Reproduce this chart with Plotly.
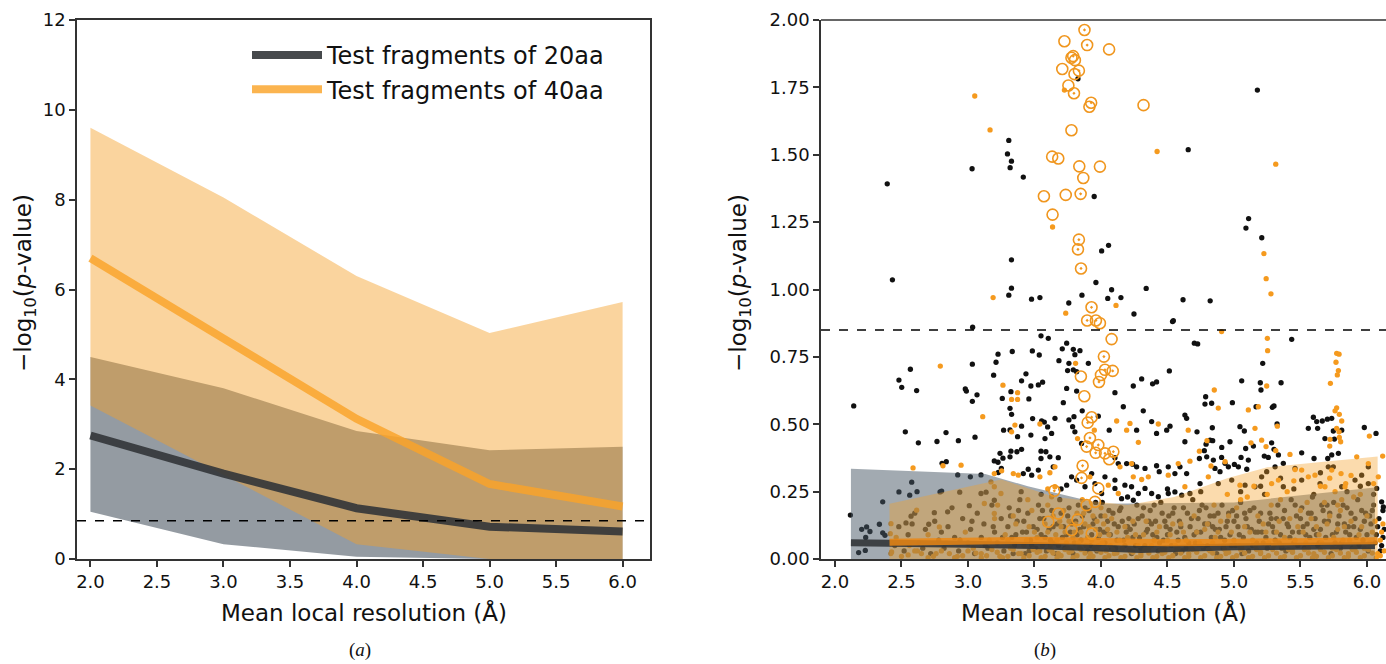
import plotly.graph_objects as go

# ---------------- Panel (a) data ----------------
res_bins = [2.0, 3.0, 4.0, 5.0, 6.0]
mean_20aa = [2.75, 1.9, 1.13, 0.72, 0.61]
lo_20aa = [1.05, 0.33, 0.05, 0.0, 0.0]
hi_20aa = [4.5, 3.8, 2.85, 2.42, 2.5]
mean_40aa = [6.7, 4.9, 3.12, 1.67, 1.17]
lo_40aa = [3.42, 1.88, 0.33, 0.0, 0.0]
hi_40aa = [9.6, 8.05, 6.3, 5.03, 5.72]
threshold = 0.85

# ---------------- Panel (b) data ----------------
b_grey_x = [2.12, 3.13, 3.45, 4.0, 5.0, 6.06]
b_grey_hi = [0.335, 0.315, 0.27, 0.205, 0.21, 0.265]
b_orange_x = [2.41, 3.25, 3.65, 4.2, 4.55, 4.95, 5.25, 6.08]
b_orange_hi = [0.205, 0.295, 0.23, 0.2, 0.23, 0.3, 0.34, 0.38]
b_grey_line_x = [2.12, 2.5, 3.0, 3.5, 4.0, 4.3, 5.0, 5.5, 6.06]
b_grey_line_y = [0.06, 0.06, 0.055, 0.05, 0.04, 0.035, 0.045, 0.05, 0.05]
b_orange_line_x = [2.41, 3.0, 3.5, 4.0, 4.5, 5.0, 5.5, 6.08]
b_orange_line_y = [0.062, 0.068, 0.07, 0.065, 0.06, 0.062, 0.066, 0.068]

# circled significant hits (x, y, has_dot)
circles = [
    (3.876, 1.963, 1), (3.725, 1.921, 0), (3.896, 1.907, 1), (4.061, 1.891, 0),
    (3.791, 1.866, 1), (3.778, 1.860, 0), (3.804, 1.851, 0), (3.709, 1.818, 0),
    (3.834, 1.812, 1), (3.801, 1.799, 0), (3.755, 1.757, 0), (3.797, 1.728, 1),
    (3.926, 1.693, 1), (3.913, 1.678, 0), (4.320, 1.684, 0), (3.778, 1.591, 0),
    (3.633, 1.493, 0), (3.679, 1.486, 0), (3.837, 1.457, 0), (3.992, 1.456, 0),
    (3.867, 1.414, 0), (3.571, 1.346, 0), (3.735, 1.351, 0), (3.847, 1.355, 1),
    (3.636, 1.278, 0), (3.834, 1.185, 1), (3.827, 1.149, 1), (3.850, 1.078, 1),
    (3.929, 0.934, 1), (3.896, 0.885, 1), (3.962, 0.885, 1), (3.992, 0.875, 0),
    (4.080, 0.816, 0), (4.022, 0.751, 1), (4.030, 0.702, 1), (4.088, 0.698, 1),
    (4.000, 0.683, 0), (3.985, 0.657, 1), (3.849, 0.677, 0), (3.875, 0.604, 0),
    (3.930, 0.526, 1), (3.900, 0.506, 1), (3.917, 0.449, 1), (3.892, 0.417, 1),
    (3.980, 0.423, 1), (3.960, 0.394, 1), (4.030, 0.392, 1), (4.093, 0.398, 1),
    (4.062, 0.370, 0), (3.862, 0.346, 1), (3.854, 0.301, 1), (3.649, 0.253, 1),
    (3.980, 0.262, 0), (3.604, 0.138, 0), (3.824, 0.146, 0), (3.955, 0.212, 0),
    (3.892, 0.200, 0), (3.779, 0.107, 0), (3.679, 0.169, 0), (3.930, 0.094, 0),
]

black_pts = [
    (2.393, 1.392), (2.432, 1.036), (3.031, 1.448), (3.307, 1.553), (3.297, 1.503),
    (3.327, 1.476), (3.317, 1.452), (3.416, 1.417), (3.949, 1.345), (3.827, 1.782),
    (4.656, 1.519), (5.176, 1.740), (5.110, 1.263), (5.090, 1.228), (5.209, 1.192),
    (4.057, 1.164), (4.005, 1.143), (3.327, 1.110), (3.962, 1.026), (3.327, 1.005),
    (3.307, 0.979), (4.080, 0.999), (4.340, 1.004), (3.478, 0.964), (3.541, 0.970),
    (3.758, 0.950), (3.857, 0.979), (4.051, 0.967), (4.150, 0.970), (4.617, 0.962),
    (4.821, 0.958), (4.248, 0.909), (4.538, 0.881),
    (3.035, 0.860), (2.141, 0.568), (2.567, 0.704), (2.481, 0.664), (2.502, 0.637),
    (2.614, 0.625), (3.033, 0.723), (3.226, 0.760), (3.211, 0.730), (3.193, 0.682),
    (2.980, 0.631), (2.988, 0.623), (3.068, 0.609), (3.033, 0.585), (3.258, 0.596),
    (2.529, 0.472), (2.627, 0.431), (2.767, 0.436), (2.835, 0.469), (2.928, 0.439),
    (3.053, 0.452), (3.268, 0.478), (2.805, 0.355), (2.837, 0.361), (2.923, 0.312),
    (3.018, 0.305), (3.098, 0.312), (3.198, 0.364), (3.241, 0.392), (3.263, 0.374),
    (3.226, 0.359), (3.251, 0.336), (3.228, 0.321), (2.577, 0.285), (2.481, 0.249),
    (2.562, 0.237), (2.617, 0.250), (2.790, 0.249), (2.802, 0.252), (2.359, 0.212),
    (2.116, 0.163), (2.201, 0.110), (2.238, 0.119), (2.263, 0.102), (2.334, 0.129),
    (2.359, 0.097), (2.376, 0.088), (2.231, 0.080), (2.178, 0.024), (2.228, 0.032),
    (2.572, 0.159), (2.534, 0.134), (2.747, 0.172), (2.705, 0.129), (2.847, 0.175),
    (2.938, 0.248), (3.010, 0.198), (3.098, 0.243), (3.136, 0.248), (3.198, 0.218),
    (3.333, 0.770), (3.484, 0.772), (3.536, 0.757), (3.549, 0.828), (3.604, 0.819),
    (3.742, 0.801), (3.709, 0.780), (3.792, 0.778), (3.842, 0.773), (3.684, 0.736),
    (3.804, 0.758), (3.759, 0.726), (3.905, 0.726), (3.749, 0.699), (3.792, 0.702),
    (3.817, 0.695), (3.436, 0.687), (3.403, 0.661), (3.473, 0.642), (3.529, 0.646),
    (3.561, 0.656), (3.323, 0.621), (3.458, 0.594), (3.742, 0.633), (3.817, 0.623),
    (4.105, 0.617), (4.243, 0.642), (4.306, 0.668), (4.388, 0.650), (4.418, 0.657),
    (4.514, 0.698), (4.544, 0.884), (4.702, 0.801), (3.316, 0.559), (3.328, 0.537),
    (3.316, 0.479), (3.373, 0.454), (3.403, 0.493), (3.486, 0.521), (3.554, 0.512),
    (3.574, 0.508), (3.599, 0.490), (3.654, 0.522), (3.473, 0.460), (3.717, 0.580),
    (3.759, 0.516), (3.797, 0.528), (3.787, 0.491), (3.804, 0.472), (3.859, 0.550),
    (3.629, 0.466), (3.579, 0.447), (3.854, 0.429), (4.062, 0.478), (3.980, 0.530),
    (4.168, 0.565), (4.268, 0.478), (4.318, 0.550), (4.381, 0.510), (4.418, 0.466),
    (4.494, 0.478), (4.519, 0.493), (4.631, 0.534), (4.644, 0.522), (4.631, 0.435),
    (3.323, 0.400), (3.368, 0.398), (3.403, 0.407), (3.316, 0.379), (3.549, 0.400),
    (3.586, 0.398), (3.549, 0.373), (3.616, 0.379), (3.679, 0.376), (3.453, 0.333),
    (3.416, 0.317), (3.479, 0.311), (3.529, 0.330), (3.641, 0.342), (4.105, 0.376),
    (4.130, 0.354), (4.193, 0.354), (4.238, 0.352), (4.268, 0.342), (4.331, 0.336),
    (4.418, 0.346), (4.438, 0.324), (4.506, 0.342), (4.556, 0.317), (4.594, 0.342),
    (4.644, 0.317), (3.779, 0.305), (3.817, 0.293), (3.930, 0.317), (4.030, 0.305),
    (4.105, 0.293), (3.742, 0.274), (3.880, 0.268), (3.955, 0.280), (4.005, 0.243),
    (4.105, 0.262), (4.180, 0.274), (4.230, 0.268), (4.281, 0.243), (4.331, 0.262),
    (4.381, 0.243), (4.431, 0.231), (4.506, 0.243), (4.556, 0.249), (4.607, 0.237),
    (4.669, 0.243), (4.155, 0.224), (4.243, 0.218),
    (4.727, 0.798), (5.434, 0.815), (5.216, 0.726), (5.058, 0.661), (5.198, 0.654),
    (5.203, 0.627), (5.354, 0.654), (4.787, 0.602), (4.782, 0.575), (4.832, 0.578),
    (4.988, 0.580), (5.166, 0.565), (5.288, 0.563), (5.301, 0.568), (4.837, 0.487),
    (5.045, 0.491), (5.078, 0.475), (5.324, 0.501), (5.597, 0.526), (5.622, 0.510),
    (5.664, 0.512), (5.702, 0.519), (5.735, 0.522), (5.559, 0.485), (5.629, 0.485),
    (5.747, 0.475), (5.810, 0.478), (5.980, 0.488), (6.068, 0.466), (4.722, 0.472),
    (4.820, 0.441), (4.840, 0.439), (4.790, 0.426), (4.777, 0.402), (4.908, 0.414),
    (4.970, 0.435), (5.088, 0.410), (5.146, 0.419), (5.283, 0.431), (5.301, 0.407),
    (5.684, 0.447), (5.755, 0.445), (5.509, 0.394), (5.602, 0.373), (5.705, 0.373),
    (5.735, 0.386), (5.785, 0.392), (4.740, 0.373), (4.795, 0.379), (4.845, 0.367),
    (4.907, 0.377), (4.933, 0.355), (5.003, 0.351), (5.053, 0.377), (5.108, 0.367),
    (5.228, 0.382), (5.258, 0.377), (5.334, 0.386), (5.371, 0.355), (4.857, 0.336),
    (4.895, 0.324), (4.958, 0.342), (5.033, 0.342), (5.096, 0.333), (5.246, 0.324),
    (5.208, 0.305), (5.309, 0.342), (5.459, 0.336), (5.709, 0.342), (5.747, 0.342),
    (5.960, 0.311), (6.010, 0.342), (6.073, 0.262), (6.110, 0.212), (6.123, 0.193),
    (4.745, 0.280), (4.882, 0.280), (4.983, 0.293), (5.083, 0.274), (5.158, 0.268),
    (5.371, 0.268), (5.509, 0.293), (5.647, 0.280), (5.810, 0.268), (5.910, 0.293),
    (6.010, 0.280),
    # dense cloud near the baseline
    (2.45, 0.05), (2.48, 0.12), (2.52, 0.03), (2.55, 0.09), (2.60, 0.17), (2.63, 0.06),
    (2.68, 0.11), (2.72, 0.02), (2.75, 0.14), (2.78, 0.07), (2.82, 0.04), (2.85, 0.12),
    (2.88, 0.19), (2.90, 0.08), (2.93, 0.03), (2.96, 0.15), (3.00, 0.06), (3.02, 0.11),
    (3.05, 0.02), (3.07, 0.17), (3.10, 0.08), (3.12, 0.13), (3.15, 0.04), (3.18, 0.20),
    (3.20, 0.10), (3.22, 0.06), (3.25, 0.15), (3.27, 0.03), (3.30, 0.12), (3.31, 0.19),
    (3.33, 0.08), (3.35, 0.05), (3.37, 0.14), (3.39, 0.22), (3.41, 0.10), (3.43, 0.02),
    (3.45, 0.17), (3.47, 0.07), (3.49, 0.12), (3.51, 0.04), (3.53, 0.20), (3.55, 0.09),
    (3.57, 0.15), (3.59, 0.03), (3.61, 0.11), (3.63, 0.18), (3.65, 0.06), (3.67, 0.13),
    (3.69, 0.22), (3.71, 0.08), (3.73, 0.04), (3.75, 0.16), (3.77, 0.10), (3.79, 0.02),
    (3.81, 0.14), (3.83, 0.20), (3.85, 0.07), (3.87, 0.12), (3.89, 0.05), (3.91, 0.18),
    (3.93, 0.09), (3.95, 0.15), (3.97, 0.03), (3.99, 0.11), (4.01, 0.21), (4.03, 0.06),
    (4.05, 0.14), (4.07, 0.09), (4.09, 0.17), (4.11, 0.04), (4.13, 0.12), (4.15, 0.19),
    (4.17, 0.07), (4.19, 0.10), (4.21, 0.15), (4.23, 0.02), (4.25, 0.13), (4.27, 0.20),
    (4.29, 0.08), (4.31, 0.16), (4.33, 0.05), (4.35, 0.11), (4.37, 0.18), (4.39, 0.09),
    (4.41, 0.14), (4.43, 0.03), (4.45, 0.21), (4.47, 0.07), (4.49, 0.12), (4.51, 0.16),
    (4.53, 0.05), (4.55, 0.19), (4.57, 0.10), (4.59, 0.14), (4.61, 0.03), (4.63, 0.08),
    (4.65, 0.17), (4.67, 0.12), (4.69, 0.22), (4.71, 0.06), (4.73, 0.15), (4.75, 0.10),
    (4.77, 0.04), (4.79, 0.19), (4.81, 0.13), (4.83, 0.08), (4.85, 0.16), (4.87, 0.02),
    (4.89, 0.11), (4.91, 0.20), (4.93, 0.07), (4.95, 0.14), (4.97, 0.09), (4.99, 0.18),
    (5.01, 0.05), (5.03, 0.12), (5.05, 0.21), (5.07, 0.08), (5.09, 0.15), (5.11, 0.03),
    (5.13, 0.11), (5.15, 0.19), (5.17, 0.06), (5.19, 0.14), (5.21, 0.10), (5.23, 0.24),
    (5.25, 0.04), (5.27, 0.17), (5.29, 0.12), (5.31, 0.07), (5.33, 0.20), (5.35, 0.09),
    (5.37, 0.15), (5.39, 0.03), (5.41, 0.12), (5.43, 0.22), (5.45, 0.06), (5.47, 0.16),
    (5.49, 0.10), (5.51, 0.19), (5.53, 0.04), (5.55, 0.13), (5.57, 0.08), (5.59, 0.23),
    (5.61, 0.15), (5.63, 0.05), (5.65, 0.11), (5.67, 0.18), (5.69, 0.08), (5.71, 0.14),
    (5.73, 0.02), (5.75, 0.21), (5.77, 0.10), (5.79, 0.16), (5.81, 0.06), (5.83, 0.13),
    (5.85, 0.19), (5.87, 0.09), (5.89, 0.04), (5.91, 0.15), (5.93, 0.22), (5.95, 0.11),
    (5.97, 0.07), (5.99, 0.17), (6.01, 0.03), (6.03, 0.13), (6.05, 0.20), (6.07, 0.09),
    (6.09, 0.15), (6.11, 0.05), (6.13, 0.11),
    (3.32, 0.16), (3.36, 0.09), (3.42, 0.14), (3.46, 0.03), (3.52, 0.11), (3.56, 0.18),
    (3.62, 0.07), (3.66, 0.02), (3.72, 0.12), (3.76, 0.19), (3.82, 0.09), (3.86, 0.16),
    (3.92, 0.05), (3.96, 0.21), (4.02, 0.10), (4.06, 0.18), (4.12, 0.07), (4.16, 0.14),
    (4.22, 0.11), (4.26, 0.05), (4.32, 0.19), (4.36, 0.14), (4.42, 0.08), (4.46, 0.17),
    (4.52, 0.11), (4.56, 0.02), (4.62, 0.19), (4.66, 0.06), (4.72, 0.10), (4.76, 0.20),
    (4.82, 0.16), (4.86, 0.11), (4.92, 0.04), (4.96, 0.17), (5.02, 0.16), (5.06, 0.02),
    (5.12, 0.18), (5.16, 0.10), (5.22, 0.06), (5.26, 0.13), (5.32, 0.15), (5.36, 0.04),
    (5.42, 0.08), (5.46, 0.20), (5.52, 0.12), (5.56, 0.17), (5.62, 0.09), (5.66, 0.20),
    (5.72, 0.17), (5.76, 0.06), (5.82, 0.20), (5.86, 0.12), (5.92, 0.08), (5.96, 0.18),
    (6.02, 0.16), (6.06, 0.06), (6.12, 0.18),
    (2.58, 0.13), (2.66, 0.04), (2.80, 0.10), (2.94, 0.07), (3.03, 0.14), (3.13, 0.05),
    (3.19, 0.12), (3.26, 0.08), (3.34, 0.02), (3.38, 0.18), (3.44, 0.10), (3.48, 0.05),
    (3.54, 0.15), (3.58, 0.08), (3.64, 0.12), (3.68, 0.05), (3.70, 0.17), (3.74, 0.09),
    (3.78, 0.13), (3.80, 0.06), (3.84, 0.11), (3.88, 0.19), (3.90, 0.03), (3.94, 0.13),
    (3.98, 0.08), (4.00, 0.16), (4.04, 0.10), (4.08, 0.04), (4.10, 0.13), (4.14, 0.18),
    (4.18, 0.05), (4.20, 0.12), (4.24, 0.08), (4.28, 0.15), (4.30, 0.04), (4.34, 0.10),
    (4.38, 0.13), (4.40, 0.20), (4.44, 0.06), (4.48, 0.14), (4.50, 0.09), (4.54, 0.17),
    (4.58, 0.07), (4.60, 0.12), (4.64, 0.04), (4.68, 0.15), (4.70, 0.09), (4.74, 0.18),
    (4.78, 0.13), (4.80, 0.05), (4.84, 0.12), (4.88, 0.17), (4.90, 0.08), (4.94, 0.12),
    (4.98, 0.05), (5.00, 0.14), (5.04, 0.09), (5.08, 0.17), (5.10, 0.12), (5.14, 0.05),
    (5.18, 0.10), (5.20, 0.17), (5.24, 0.08), (5.28, 0.15), (5.30, 0.10), (5.34, 0.06),
    (5.38, 0.18), (5.40, 0.13), (5.44, 0.10), (5.48, 0.05), (5.50, 0.15), (5.54, 0.09),
    (5.58, 0.17), (5.60, 0.11), (5.64, 0.06), (5.68, 0.14), (5.70, 0.20), (5.74, 0.09),
    (5.78, 0.13), (5.80, 0.04), (5.84, 0.10), (5.88, 0.17), (5.90, 0.12), (5.94, 0.05),
    (5.98, 0.14), (6.00, 0.09), (6.04, 0.18), (6.08, 0.12), (6.10, 0.03), (6.12, 0.08),
    (3.40, 0.25), (3.55, 0.24), (3.70, 0.26), (4.20, 0.23), (4.50, 0.26), (4.75, 0.25),
    (5.05, 0.25), (5.20, 0.27), (5.45, 0.26), (5.60, 0.24), (5.85, 0.25), (6.05, 0.24),
    (5.35, 0.30), (5.65, 0.32), (5.95, 0.27),
]

orange_pts = [
    (3.051, 1.718), (3.166, 1.592), (4.422, 1.512), (5.314, 1.465), (3.636, 1.232),
    (5.225, 1.133), (5.242, 1.040), (5.278, 0.984), (3.189, 0.970), (4.113, 0.941),
    (3.735, 0.912), (3.725, 1.740),
    (2.792, 0.716), (3.263, 0.645), (3.111, 0.528), (2.587, 0.338), (2.812, 0.346),
    (2.948, 0.348), (3.198, 0.317), (3.253, 0.327), (3.173, 0.286), (3.198, 0.268),
    (2.614, 0.181), (2.421, 0.131), (2.416, 0.094), (2.426, 0.026), (3.248, 0.243),
    (3.223, 0.200), (3.123, 0.206), (3.198, 0.169), (2.785, 0.119),
    (3.373, 0.617), (3.373, 0.592), (3.328, 0.592), (3.809, 0.726), (3.353, 0.497),
    (3.328, 0.472), (3.541, 0.501), (3.824, 0.447), (3.950, 0.478), (4.118, 0.512),
    (4.218, 0.503), (4.193, 0.478), (4.281, 0.433), (4.431, 0.501), (4.656, 0.478),
    (4.669, 0.363), (3.654, 0.342), (3.616, 0.320), (3.541, 0.305), (3.378, 0.311),
    (3.341, 0.317), (4.143, 0.342), (4.230, 0.354), (4.243, 0.305), (4.306, 0.295),
    (4.356, 0.305), (4.130, 0.243), (4.055, 0.274), (3.917, 0.305), (4.581, 0.354),
    (4.631, 0.268), (3.654, 0.268), (3.629, 0.231), (4.506, 0.311),
    (4.907, 0.844), (5.251, 0.819), (5.253, 0.773), (5.772, 0.763), (5.790, 0.760),
    (5.767, 0.730), (5.785, 0.699), (5.777, 0.683), (5.725, 0.652), (5.246, 0.642),
    (4.852, 0.627), (4.882, 0.560), (5.108, 0.553), (5.183, 0.565), (5.772, 0.561),
    (5.760, 0.550), (5.792, 0.537), (5.810, 0.512), (5.326, 0.493), (5.158, 0.485),
    (6.018, 0.456), (5.772, 0.485), (5.790, 0.472), (5.722, 0.444), (5.792, 0.451),
    (5.802, 0.435), (5.720, 0.419), (5.128, 0.431), (5.208, 0.441), (5.241, 0.417),
    (5.314, 0.402), (5.421, 0.388), (4.740, 0.400), (4.797, 0.439), (4.827, 0.345),
    (4.933, 0.361), (5.923, 0.379), (6.010, 0.354), (6.118, 0.382), (6.085, 0.305),
    (5.459, 0.332), (5.509, 0.330), (5.609, 0.311), (5.735, 0.330), (5.805, 0.317),
    (5.835, 0.268), (4.807, 0.305), (5.045, 0.274), (5.283, 0.280), (5.334, 0.293),
    (5.559, 0.305), (5.684, 0.268),
    # dense cloud near the baseline
    (2.42, 0.02), (2.46, 0.08), (2.50, 0.01), (2.56, 0.05), (2.62, 0.03), (2.70, 0.09),
    (2.76, 0.02), (2.84, 0.06), (2.92, 0.01), (2.98, 0.10), (3.04, 0.04), (3.10, 0.02),
    (3.16, 0.07), (3.20, 0.15), (3.24, 0.01), (3.28, 0.09), (3.32, 0.04), (3.36, 0.13),
    (3.40, 0.02), (3.44, 0.07), (3.48, 0.18), (3.50, 0.10), (3.54, 0.03), (3.58, 0.13),
    (3.60, 0.20), (3.62, 0.05), (3.64, 0.16), (3.66, 0.09), (3.68, 0.02), (3.70, 0.12),
    (3.72, 0.18), (3.74, 0.06), (3.76, 0.14), (3.78, 0.03), (3.80, 0.10), (3.82, 0.17),
    (3.84, 0.04), (3.86, 0.22), (3.88, 0.13), (3.90, 0.08), (3.92, 0.02), (3.94, 0.16),
    (3.96, 0.11), (3.98, 0.05), (4.00, 0.19), (4.02, 0.13), (4.04, 0.03), (4.06, 0.09),
    (4.08, 0.15), (4.10, 0.02), (4.14, 0.07), (4.18, 0.12), (4.22, 0.03), (4.26, 0.09),
    (4.30, 0.02), (4.34, 0.14), (4.38, 0.05), (4.42, 0.10), (4.46, 0.02), (4.50, 0.07),
    (4.54, 0.13), (4.58, 0.04), (4.62, 0.10), (4.66, 0.02), (4.70, 0.16), (4.74, 0.06),
    (4.78, 0.11), (4.82, 0.03), (4.86, 0.08), (4.90, 0.14), (4.94, 0.02), (4.98, 0.10),
    (5.02, 0.19), (5.04, 0.05), (5.08, 0.12), (5.10, 0.23), (5.14, 0.07), (5.18, 0.16),
    (5.20, 0.02), (5.24, 0.10), (5.28, 0.20), (5.30, 0.05), (5.34, 0.14), (5.38, 0.08),
    (5.40, 0.25), (5.44, 0.03), (5.48, 0.12), (5.50, 0.18), (5.54, 0.06), (5.58, 0.15),
    (5.60, 0.02), (5.64, 0.09), (5.68, 0.21), (5.70, 0.13), (5.74, 0.04), (5.76, 0.25),
    (5.78, 0.11), (5.80, 0.18), (5.82, 0.07), (5.84, 0.28), (5.86, 0.02), (5.88, 0.14),
    (5.90, 0.23), (5.94, 0.09), (5.98, 0.04), (6.00, 0.16), (6.04, 0.10), (6.08, 0.02),
    (6.10, 0.07), (6.12, 0.13),
    (3.30, 0.07), (3.34, 0.16), (3.42, 0.05), (3.46, 0.12), (3.52, 0.08), (3.56, 0.05),
    (3.60, 0.10), (3.63, 0.03), (3.67, 0.07), (3.69, 0.14), (3.73, 0.10), (3.75, 0.04),
    (3.79, 0.08), (3.81, 0.13), (3.83, 0.06), (3.85, 0.10), (3.87, 0.17), (3.89, 0.05),
    (3.91, 0.12), (3.93, 0.07), (3.95, 0.04), (3.97, 0.14), (3.99, 0.09), (4.01, 0.06),
    (4.03, 0.16), (4.05, 0.11), (4.07, 0.05), (4.12, 0.10), (4.16, 0.04), (4.20, 0.08),
    (4.24, 0.14), (4.28, 0.05), (4.32, 0.09), (4.36, 0.04), (4.40, 0.07), (4.44, 0.12),
    (4.48, 0.04), (4.52, 0.09), (4.56, 0.05), (4.60, 0.13), (4.64, 0.07), (4.68, 0.04),
    (4.72, 0.10), (4.76, 0.05), (4.80, 0.13), (4.84, 0.06), (4.88, 0.10), (4.92, 0.05),
    (4.96, 0.16), (5.00, 0.07), (5.06, 0.04), (5.12, 0.10), (5.16, 0.05), (5.22, 0.13),
    (5.26, 0.06), (5.32, 0.10), (5.36, 0.05), (5.42, 0.15), (5.46, 0.07), (5.52, 0.10),
    (5.56, 0.04), (5.62, 0.12), (5.66, 0.06), (5.72, 0.16), (5.75, 0.08), (5.79, 0.05),
    (5.81, 0.22), (5.83, 0.12), (5.87, 0.07), (5.91, 0.04), (5.96, 0.12), (6.02, 0.06),
    (6.06, 0.14), (6.11, 0.10),
    (4.85, 0.20), (4.95, 0.24), (5.05, 0.22), (5.15, 0.27), (5.25, 0.24), (5.35, 0.22),
    (5.45, 0.29), (5.55, 0.21), (5.65, 0.27), (5.72, 0.30), (5.78, 0.20), (5.88, 0.31),
    (5.95, 0.24), (6.05, 0.28), (3.45, 0.22), (3.60, 0.26),
    (2.55, 0.015), (2.65, 0.02), (2.74, 0.01), (2.86, 0.02), (2.96, 0.012), (3.06, 0.022),
    (3.14, 0.012), (3.22, 0.025), (3.30, 0.01), (3.38, 0.02), (3.46, 0.012), (3.52, 0.025),
    (3.58, 0.01), (3.64, 0.022), (3.70, 0.012), (3.76, 0.025), (3.82, 0.012), (3.88, 0.022),
    (3.94, 0.01), (4.00, 0.025), (4.06, 0.012), (4.12, 0.022), (4.18, 0.01), (4.24, 0.025),
    (4.30, 0.012), (4.36, 0.022), (4.42, 0.01), (4.48, 0.025), (4.54, 0.012), (4.60, 0.022),
    (4.66, 0.01), (4.72, 0.025), (4.78, 0.012), (4.84, 0.022), (4.90, 0.01), (4.96, 0.025),
    (5.02, 0.012), (5.08, 0.022), (5.14, 0.01), (5.20, 0.025), (5.26, 0.012), (5.32, 0.022),
    (5.38, 0.01), (5.44, 0.025), (5.50, 0.012), (5.56, 0.022), (5.62, 0.01), (5.68, 0.025),
    (5.74, 0.012), (5.80, 0.022), (5.86, 0.01), (5.92, 0.025), (5.98, 0.012), (6.04, 0.022),
    (6.10, 0.012),
    (2.60, 0.030), (2.70, 0.005), (2.80, 0.030), (2.90, 0.005), (3.00, 0.030), (3.10, 0.005),
    (3.18, 0.035), (3.26, 0.005), (3.34, 0.035), (3.42, 0.005), (3.49, 0.035), (3.55, 0.005),
    (3.61, 0.035), (3.67, 0.005), (3.73, 0.035), (3.79, 0.005), (3.85, 0.035), (3.91, 0.005),
    (3.97, 0.035), (4.03, 0.005), (4.09, 0.035), (4.15, 0.005), (4.21, 0.035), (4.27, 0.005),
    (4.33, 0.035), (4.39, 0.005), (4.45, 0.035), (4.51, 0.005), (4.57, 0.035), (4.63, 0.005),
    (4.69, 0.035), (4.75, 0.005), (4.81, 0.035), (4.87, 0.005), (4.93, 0.035), (4.99, 0.005),
    (5.05, 0.035), (5.11, 0.005), (5.17, 0.035), (5.23, 0.005), (5.29, 0.035), (5.35, 0.005),
    (5.41, 0.035), (5.47, 0.005), (5.53, 0.035), (5.59, 0.005), (5.65, 0.035), (5.71, 0.005),
    (5.77, 0.035), (5.83, 0.005), (5.89, 0.035), (5.95, 0.005), (6.01, 0.035), (6.07, 0.005),
    (6.13, 0.030),
]

# ---------------- styling ----------------
FONT = "DejaVu Sans"
GREY_LINE = "rgba(50,53,57,0.9)"
ORANGE_LINE = "rgba(250,163,40,0.82)"
GREY_FILL_A = "rgba(60,72,85,0.55)"
ORANGE_FILL_A = "rgba(245,160,40,0.45)"
GREY_FILL_B = "rgba(70,85,100,0.5)"
ORANGE_FILL_B = "rgba(245,160,40,0.38)"
AXIS_COL = "#333333"

fig = go.Figure()

# Panel (a)
fig.add_trace(go.Scatter(x=res_bins, y=lo_20aa, mode="lines", line=dict(width=0),
                         showlegend=False, hoverinfo="skip", xaxis="x", yaxis="y"))
fig.add_trace(go.Scatter(x=res_bins, y=hi_20aa, mode="lines", line=dict(width=0),
                         fill="tonexty", fillcolor=GREY_FILL_A, showlegend=False,
                         hoverinfo="skip", xaxis="x", yaxis="y"))
fig.add_trace(go.Scatter(x=res_bins, y=lo_40aa, mode="lines", line=dict(width=0),
                         showlegend=False, hoverinfo="skip", xaxis="x", yaxis="y"))
fig.add_trace(go.Scatter(x=res_bins, y=hi_40aa, mode="lines", line=dict(width=0),
                         fill="tonexty", fillcolor=ORANGE_FILL_A, showlegend=False,
                         hoverinfo="skip", xaxis="x", yaxis="y"))
fig.add_trace(go.Scatter(x=res_bins, y=mean_20aa, mode="lines",
                         line=dict(color=GREY_LINE, width=8), legendgroup="g20",
                         name="Test fragments of 20aa", xaxis="x", yaxis="y"))
fig.add_trace(go.Scatter(x=res_bins, y=mean_40aa, mode="lines",
                         line=dict(color=ORANGE_LINE, width=8), legendgroup="g40",
                         name="Test fragments of 40aa", xaxis="x", yaxis="y"))

# Panel (b)
fig.add_trace(go.Scatter(x=[p[0] for p in black_pts], y=[p[1] for p in black_pts],
                         mode="markers", marker=dict(color="#111111", size=5.3),
                         showlegend=False, xaxis="x2", yaxis="y2"))
fig.add_trace(go.Scatter(x=[p[0] for p in orange_pts], y=[p[1] for p in orange_pts],
                         mode="markers", marker=dict(color="#f59a1e", size=5.3),
                         showlegend=False, xaxis="x2", yaxis="y2"))
fig.add_trace(go.Scatter(x=b_grey_x, y=b_grey_hi, mode="lines", line=dict(width=0),
                         fill="tozeroy", fillcolor=GREY_FILL_B, showlegend=False,
                         hoverinfo="skip", xaxis="x2", yaxis="y2"))
fig.add_trace(go.Scatter(x=b_orange_x, y=b_orange_hi, mode="lines", line=dict(width=0),
                         fill="tozeroy", fillcolor=ORANGE_FILL_B, showlegend=False,
                         hoverinfo="skip", xaxis="x2", yaxis="y2"))
fig.add_trace(go.Scatter(x=b_grey_line_x, y=b_grey_line_y, mode="lines",
                         line=dict(color=GREY_LINE, width=7), showlegend=False,
                         xaxis="x2", yaxis="y2"))
fig.add_trace(go.Scatter(x=b_orange_line_x, y=b_orange_line_y, mode="lines",
                         line=dict(color="rgba(235,135,20,0.85)", width=7), showlegend=False,
                         xaxis="x2", yaxis="y2"))
circ_dot = [c for c in circles if c[2] == 1]
circ_open = [c for c in circles if c[2] == 0]
fig.add_trace(go.Scatter(x=[c[0] for c in circ_dot], y=[c[1] for c in circ_dot],
                         mode="markers",
                         marker=dict(symbol="circle-open-dot", size=11, color="#f0961e",
                                     line=dict(width=1.6, color="#f0961e")),
                         showlegend=False, xaxis="x2", yaxis="y2"))
fig.add_trace(go.Scatter(x=[c[0] for c in circ_open], y=[c[1] for c in circ_open],
                         mode="markers",
                         marker=dict(symbol="circle-open", size=11, color="#f0961e",
                                     line=dict(width=1.6, color="#f0961e")),
                         showlegend=False, xaxis="x2", yaxis="y2"))

W, H = 1386, 664
ML, MT, MB = 0, 20, 105
PH = H - MT - MB

xticks = [2.0, 2.5, 3.0, 3.5, 4.0, 4.5, 5.0, 5.5, 6.0]
axis_common = dict(showgrid=False, zeroline=False, ticks="outside", ticklen=6,
                   tickwidth=1.5, tickcolor=AXIS_COL, linecolor=AXIS_COL, linewidth=1.5,
                   showline=True, tickfont=dict(family=FONT, size=18, color="#111"))

fig.update_layout(
    width=W, height=H, autosize=False,
    margin=dict(l=ML, r=0, t=MT, b=MB),
    paper_bgcolor="white", plot_bgcolor="white",
    xaxis=dict(domain=[77 / W, 650 / W], range=[1.899, 6.206], tickvals=xticks,
               ticktext=[f"{v:.1f}" for v in xticks], mirror=True, anchor="y",
               **axis_common),
    yaxis=dict(domain=[0, 1], range=[0, 12], tickvals=[0, 2, 4, 6, 8, 10, 12],
               mirror=True, anchor="x", **axis_common),
    xaxis2=dict(domain=[821 / W, 1.0], range=[1.895, 6.143], tickvals=xticks,
                ticktext=[f"{v:.1f}" for v in xticks], anchor="y2", **axis_common),
    yaxis2=dict(domain=[0, 1], range=[0, 2],
                tickvals=[0, 0.25, 0.5, 0.75, 1.0, 1.25, 1.5, 1.75, 2.0],
                ticktext=[f"{v:.2f}" for v in [0, 0.25, 0.5, 0.75, 1.0, 1.25, 1.5, 1.75, 2.0]],
                anchor="x2", **axis_common),
    legend=dict(x=247 / W, y=(H - MB - 33) / PH, xanchor="left", yanchor="top",
                traceorder="normal",
                bgcolor="rgba(0,0,0,0)", font=dict(family=FONT, size=24, color="#111"),
                tracegroupgap=9, itemwidth=70),
    showlegend=True,
)

# threshold dashed lines and top spine of panel (b)
fig.add_shape(type="line", xref="x domain", yref="y", x0=0, x1=1, y0=threshold, y1=threshold,
              line=dict(color="black", width=1.5, dash="dash"))
fig.add_shape(type="line", xref="x2 domain", yref="y2", x0=0, x1=1, y0=threshold, y1=threshold,
              line=dict(color="black", width=1.5, dash="dash"))
fig.add_shape(type="line", xref="x2 domain", yref="y2 domain", x0=0, x1=1, y0=1, y1=1,
              line=dict(color=AXIS_COL, width=1.5))

def py(pix):
    return (H - MB - pix) / PH

ylab = "\u2212log<sub>10</sub>(<i>p</i>-value)"
xlab = "Mean local resolution (\u00c5)"
ann = [
    dict(text=ylab, x=25 / W, y=py(283), textangle=-90),
    dict(text=ylab, x=740 / W, y=py(283), textangle=-90),
    dict(text=xlab, x=(77 + 650) / 2 / W, y=py(612)),
    dict(text=xlab, x=(821 + 1386) / 2 / W, y=py(612)),
]
for a in ann:
    fig.add_annotation(xref="paper", yref="paper", showarrow=False, xanchor="center",
                       yanchor="middle", font=dict(family=FONT, size=23, color="#111"), **a)
for t, xp in [("(<i>a</i>)", 360), ("(<i>b</i>)", 1045)]:
    fig.add_annotation(text=t, xref="paper", yref="paper", x=xp / W, y=py(650),
                       showarrow=False, xanchor="center", yanchor="middle",
                       font=dict(family="Liberation Serif, DejaVu Serif, serif", size=19,
                                 color="#111"))

fig.write_html("out.html")
